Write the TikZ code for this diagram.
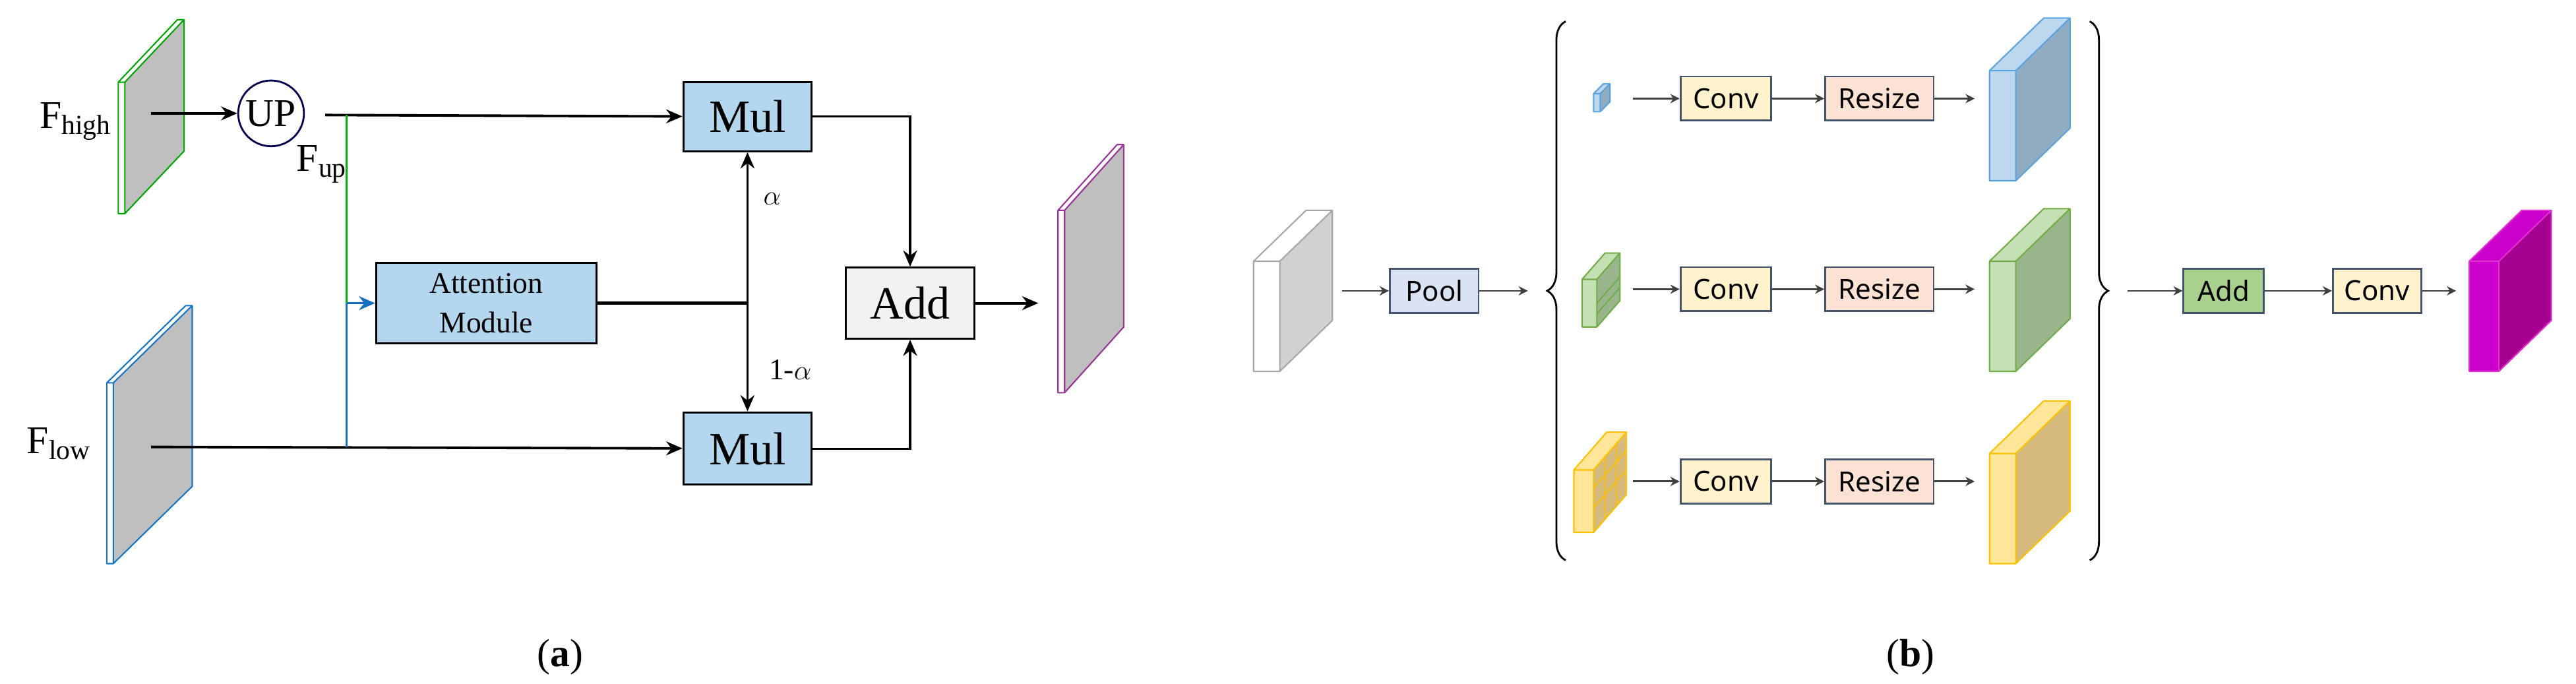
\documentclass[tikz,border=0pt]{standalone}
\usepackage{fontspec}
\setmainfont{Liberation Serif}
\newfontfamily\sansf{Noto Sans}
\usetikzlibrary{arrows.meta,decorations.pathreplacing}
\definecolor{boxblue}{HTML}{B4D6EE}
\definecolor{poolblue}{HTML}{DAE3F3}
\definecolor{convyel}{HTML}{FFF2CC}
\definecolor{respeach}{HTML}{FBE2D5}
\definecolor{addgreen}{HTML}{A9D18E}
\definecolor{edgedark}{HTML}{44546A}
\definecolor{cblue}{HTML}{BDD7EE}
\definecolor{cblueside}{HTML}{8FACC0}
\definecolor{cblueedge}{HTML}{5BA3DC}
\definecolor{cgreen}{HTML}{C5E0B4}
\definecolor{cgreenside}{HTML}{98B58C}
\definecolor{cgreenedge}{HTML}{70AD47}
\definecolor{cyel}{HTML}{FFE699}
\definecolor{cyelside}{HTML}{D5BB7E}
\definecolor{cyeledge}{HTML}{FFC000}
\definecolor{cmag}{HTML}{CC00CC}
\definecolor{cmagside}{HTML}{A6008E}
\definecolor{cmagedge}{HTML}{E030D0}
% front: x y w h, depth: dx dy, colours: front side edge
\newcommand\slab[9]{%
  \fill[#7] (#1,#2) rectangle ++(#3,#4);
  \fill[#7] (#1,#2) -- ++(#5,#6) -- ++(#3,0) -- ++(-#5,-#6) -- cycle;
  \fill[#8] (#1+#3,#2) -- ++(#5,#6) -- ++(0,#4) -- ++(-#5,-#6) -- cycle;
  \draw[#9,line width=0.6pt,line join=round] (#1,#2) rectangle ++(#3,#4)
    (#1,#2) -- ++(#5,#6) -- ++(#3,0) -- ++(0,#4) -- ++(-#5,-#6)
    (#1+#3,#2) -- ++(#5,#6);}
\begin{document}
\begin{tikzpicture}[x=0.025cm,y=-0.025cm,
  box/.style={draw,line width=0.9pt,inner sep=0pt,font=\fontsize{20}{22}\selectfont},
  sbox/.style={draw=edgedark,line width=0.8pt,inner sep=0pt,minimum height=0.67cm,font=\sansf\fontsize{12}{14}\selectfont},
  arr/.style={-{Stealth[length=7pt,width=6pt]},line width=1.1pt},
  sarr/.style={-{Stealth[length=4pt,width=4pt]},line width=0.8pt,black!75}]
\useasboundingbox (0,0) rectangle (1568,416);
% (a)
\slab{72}{50}{4}{80}{36}{-38}{white}{black!25}{green!65!black}
\slab{65}{233}{4}{110}{48}{-47}{white}{black!25}{cyan!55!blue}
\slab{644}{128}{4}{111}{36}{-40}{white}{black!25}{violet!80}
\node at (46,74) {\fontsize{17}{19}\selectfont F\textsubscript{high}};
\node at (36,270) {\fontsize{17}{19}\selectfont F\textsubscript{low}};
\node[draw=blue!30!black,circle,line width=0.8pt,minimum size=1cm,inner sep=0pt,font=\fontsize{17}{19}\selectfont] (up) at (165,69) {UP};
\node at (196,100) {\fontsize{17}{19}\selectfont F\textsubscript{up}};
\node[box,fill=boxblue,minimum width=1.95cm,minimum height=1.05cm] (mul1) at (455,71) {Mul};
\node[box,fill=boxblue,minimum width=1.95cm,minimum height=1.1cm] (mul2) at (455,273) {Mul};
\node[box,fill=boxblue,minimum width=3.35cm,minimum height=1.22cm,align=center,font=\fontsize{13}{17}\selectfont] (att) at (296,184.5) {Attention\\Module};
\node[box,fill=black!5,minimum width=1.95cm,minimum height=1.08cm] (add) at (554,184.5) {Add};
\coordinate (hi) at (92,69);
\coordinate (lo) at (92,272);
\coordinate (upo) at (198,70);
\coordinate (split) at (211,70);
\coordinate (join) at (455,184.5);
\coordinate (out) at (632,184.5);
\draw[arr] (hi) -- (up);
\draw[arr] (upo) -- (mul1);
\draw[arr] (lo) -- (mul2);
\draw[green!70!black,line width=0.9pt] (split) -- (211,184.5);
\draw[cyan!50!blue,line width=0.9pt] (211,272) -- (211,184.5);
\draw[-{Stealth[length=7pt,width=6pt]},cyan!50!blue,line width=1pt] (211,184.5) -- (att);
\draw[line width=1.3pt] (att) -- (join);
\draw[arr,{Stealth[length=7pt,width=6pt]}-{Stealth[length=7pt,width=6pt]}] (mul1) -- (mul2);
\node at (470,121) {\fontsize{13}{15}\selectfont $\alpha$};
\node at (481,225) {\fontsize{13}{15}\selectfont 1-$\alpha$};
\draw[arr,line width=0.9pt] (mul1.east) -| (add);
\draw[arr,line width=0.9pt] (mul2.east) -| (add);
\draw[arr] (add) -- (out);
\node at (341,400) {\fontsize{17}{19}\selectfont (\textbf{a})};
% (b)
\slab{763}{159}{16}{67}{32}{-31}{white}{black!18}{black!35}
\node[sbox,fill=poolblue,minimum width=1.35cm] (pool) at (873,177) {Pool};
\draw[decorate,decoration={brace,amplitude=8pt},line width=0.8pt] (953,341) -- (953,13);
\draw[decorate,decoration={brace,amplitude=8pt},line width=0.8pt] (1272,13) -- (1272,341);
\coordinate (inp) at (817,177);
\coordinate (brl) at (930,177);
\coordinate (brr) at (1295,177);
\coordinate (fin) at (1495,177);
\draw[sarr] (inp) -- (pool);
\draw[sarr] (pool) -- (brl);
\slab{970}{57}{4}{11}{6}{-6}{cblue}{cblueside}{cblueedge}
\slab{963}{170}{9}{29}{14}{-16}{cgreen}{cgreenside}{cgreenedge}
\draw[cgreenedge,line width=0.6pt] (972,184.5) -- ++(14,-16) (972,191) -- ++(14,-16);
\slab{958}{286}{12}{38}{20}{-23}{cyel}{cyelside}{cyeledge}
\draw[cyeledge,line width=0.5pt] (970,297) -- ++(20,-23) (970,309) -- ++(20,-23) (977,277) -- ++(0,38) (984,269) -- ++(0,38);
\foreach \r/\y/\fr/\sd/\ed in {1/60/cblue/cblueside/cblueedge,2/176/cgreen/cgreenside/cgreenedge,3/293/cyel/cyelside/cyeledge} {
  \node[sbox,fill=convyel,minimum width=1.38cm] (conv\r) at (1050.5,\y) {Conv};
  \node[sbox,fill=respeach,minimum width=1.65cm] (res\r) at (1144,\y) {Resize};
  \coordinate (sm\r) at (994,\y);
  \coordinate (bg\r) at (1202,\y);
  \draw[sarr] (sm\r) -- (conv\r);
  \draw[sarr] (conv\r) -- (res\r);
  \draw[sarr] (res\r) -- (bg\r);
  \slab{1211}{\y-17}{16}{67}{33}{-32}{\fr}{\sd}{\ed}
}
\node[sbox,fill=addgreen,minimum width=1.22cm] (add2) at (1353.5,177) {Add};
\node[sbox,fill=convyel,minimum width=1.35cm] (conv4) at (1447,177) {Conv};
\draw[sarr] (brr) -- (add2);
\draw[sarr] (add2) -- (conv4);
\draw[sarr] (conv4) -- (fin);
\slab{1503}{159}{18}{67}{32}{-31}{cmag}{cmagside}{cmagedge}
\node at (1163,400) {\fontsize{17}{19}\selectfont (\textbf{b})};
\end{tikzpicture}
\end{document}
